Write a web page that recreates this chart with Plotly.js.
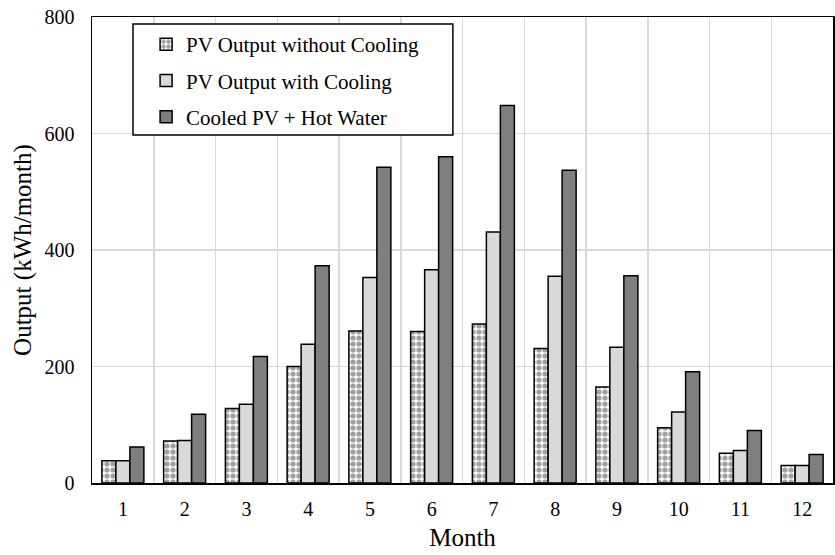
<!DOCTYPE html>
<html>
<head>
<meta charset="utf-8">
<script src="https://cdn.plot.ly/plotly-3.0.1.min.js"></script>
<style>html,body{margin:0;padding:0;background:#fff;}#chart{width:835px;height:555px;}</style>
</head>
<body>
<div id="chart"></div>
<script>
const months = ['1','2','3','4','5','6','7','8','9','10','11','12'];
const noCooling = [38, 72, 128, 200, 261, 260, 273, 231, 165, 95, 51, 30];
const withCooling = [38, 73, 135, 238, 353, 366, 431, 355, 233, 122, 56, 30];
const cooledHotWater = [62, 118, 217, 373, 542, 560, 648, 537, 356, 191, 90, 49];
const seriesNames = ['PV Output without Cooling', 'PV Output with Cooling', 'Cooled PV + Hot Water'];

const font = 'Liberation Serif, Times New Roman, serif';
const line = {color: '#000', width: 1.5};

const traces = [
  {type: 'bar', x: months, y: noCooling, name: seriesNames[0], legendgroup: 'a',
   marker: {color: '#ffffff', line: line,
            pattern: {shape: '.', fgcolor: '#a0a0a0', bgcolor: '#ffffff', size: 6, solidity: 0.6}}},
  {type: 'bar', x: months, y: withCooling, name: seriesNames[1], legendgroup: 'b',
   marker: {color: '#d9d9d9', line: line}},
  {type: 'bar', x: months, y: cooledHotWater, name: seriesNames[2], legendgroup: 'c',
   marker: {color: '#7f7f7f', line: line}}
];

const layout = {
  width: 835, height: 555,
  margin: {l: 92, r: 2, t: 17, b: 72},
  paper_bgcolor: '#fff', plot_bgcolor: '#fff',
  font: {family: font, size: 20, color: '#000'},
  barmode: 'group', bargap: 0.32, bargroupgap: 0,
  showlegend: true,
  legend: {x: 0.073, y: 0.985, xanchor: 'left', yanchor: 'top', bgcolor: 'rgba(0,0,0,0)',
           borderwidth: 0, font: {family: font, size: 21}, tracegroupgap: 6,
           traceorder: 'grouped', itemwidth: 30},
  shapes: [{type: 'rect', xref: 'paper', yref: 'paper', x0: 0.0553, x1: 0.487, y0: 0.747, y1: 0.985,
            line: {color: '#000', width: 1.5}, fillcolor: '#fff', layer: 'above'}],
  xaxis: {type: 'category', tickson: 'boundaries', showgrid: true, gridcolor: '#d9d9d9', gridwidth: 1.5,
          showline: true, mirror: true, linecolor: '#000', linewidth: 1.5, ticks: '', ticklabelstandoff: 7,
          tickfont: {family: font, size: 20}, title: {text: 'Month', font: {family: font, size: 25}, standoff: 10}},
  yaxis: {range: [0, 800], dtick: 200, showgrid: true, gridcolor: '#d9d9d9', gridwidth: 1.5,
          showline: true, mirror: true, linecolor: '#000', linewidth: 1.5, ticks: '', ticklabelstandoff: 12,
          zeroline: false, tickfont: {family: font, size: 20},
          title: {text: 'Output (kWh/month)', font: {family: font, size: 25}, standoff: 6}}
};

Plotly.newPlot('chart', traces, layout, {displayModeBar: false, staticPlot: true});
</script>
</body>
</html>
